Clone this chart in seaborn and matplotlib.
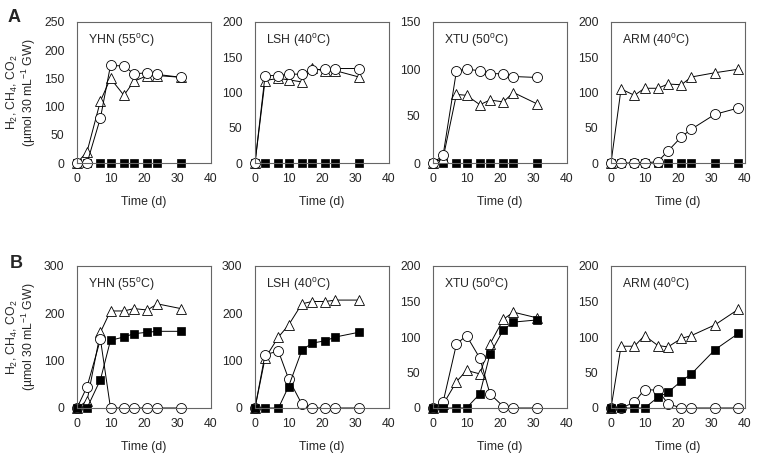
import matplotlib
matplotlib.use("Agg")
import matplotlib.pyplot as plt
import numpy as np
import seaborn as sns

sns.set_style("white")
plt.rcParams['font.family'] = ['Liberation Sans', 'DejaVu Sans']
plt.rcParams['mathtext.fontset'] = 'custom'
plt.rcParams['mathtext.rm'] = 'Liberation Sans'
plt.rcParams['mathtext.it'] = 'Liberation Sans'

# sampling days
t9 = [0, 3, 7, 10, 14, 17, 21, 24, 31]
t10 = [0, 3, 7, 10, 14, 17, 21, 24, 31, 38]

sites = ["YHN (55$^\\mathregular{o}$C)", "LSH (40$^\\mathregular{o}$C)",
         "XTU (50$^\\mathregular{o}$C)", "ARM (40$^\\mathregular{o}$C)"]

# row A
a_circ = [
    [0, 0, 80, 173, 172, 158, 160, 157, 152],
    [0, 124, 124, 126, 126, 132, 133, 134, 134],
    [0, 8, 98, 100, 98, 95, 95, 92, 91],
    [0, 0, 0, 0, 2, 17, 37, 48, 69, 78],
]
a_tri = [
    [0, 20, 110, 150, 120, 145, 155, 155, 152],
    [0, 117, 120, 118, 115, 135, 130, 131, 122],
    [0, 5, 73, 72, 62, 67, 65, 75, 63],
    [0, 105, 96, 106, 106, 112, 111, 122, 128, 133],
]
a_sq = [
    [0, 0, 0, 0, 0, 0, 0, 0, 0],
    [0, 0, 0, 0, 0, 0, 0, 0, 0],
    [0, 0, 0, 0, 0, 0, 0, 0, 0],
    [0, 0, 0, 0, 0, 0, 0, 0, 0, 0],
]
a_ymax = [250, 200, 150, 200]

# row B
b_circ = [
    [0, 45, 145, 0, 0, 0, 0, 0, 0],
    [0, 113, 120, 62, 8, 0, 0, 0, 0],
    [0, 8, 90, 102, 70, 20, 2, 0, 0],
    [0, 0, 8, 26, 25, 6, 0, 0, 0, 0],
]
b_tri = [
    [0, 15, 160, 205, 205, 210, 207, 220, 210],
    [0, 105, 150, 175, 220, 225, 225, 228, 228],
    [0, 5, 37, 53, 48, 90, 125, 135, 127],
    [0, 87, 87, 102, 88, 86, 98, 102, 117, 139],
]
b_sq = [
    [0, 0, 60, 143, 150, 157, 160, 162, 162],
    [0, 0, 0, 45, 122, 137, 142, 150, 160],
    [0, 0, 0, 0, 20, 76, 110, 121, 124],
    [0, 0, 0, 0, 15, 22, 38, 48, 82, 105],
]
b_ymax = [300, 300, 200, 200]

fig = plt.figure(figsize=(7.59, 4.62), dpi=100)
W, H = 759, 462
lefts = [77, 255, 433, 611]
aw = 134
rows = [(22, 163), (266, 408)]
fs = 8.8


def draw(ax, t, tri, circ, sq, ymax, title, sq_first):
    common = dict(color='black', lw=0.7, clip_on=False, ax=ax, legend=False)
    if sq_first:
        sns.lineplot(x=t, y=sq, marker='s', ms=5.8, mfc='black', mec='black', mew=0.5, **common)
    sns.lineplot(x=t, y=tri, marker='^', ms=7.5, mfc='white', mec='black', mew=0.6, **common)
    sns.lineplot(x=t, y=circ, marker='o', ms=7.2, mfc='white', mec='black', mew=0.6, **common)
    if not sq_first:
        sns.lineplot(x=t, y=sq, marker='s', ms=5.8, mfc='black', mec='black', mew=0.5, **common)
    ax.set_xlim(0, 40)
    ax.set_ylim(0, ymax)
    step = 50 if ymax <= 250 else 100
    ax.set_yticks(np.arange(0, ymax + 1, step))
    ax.set_xticks([0, 10, 20, 30, 40])
    ax.tick_params(axis='y', length=0, labelsize=fs, pad=9)
    ax.tick_params(axis='x', length=0, labelsize=fs, pad=7)
    for s in ax.spines.values():
        s.set_color('#666666')
        s.set_linewidth(0.8)
    ax.text(0.08, 0.93, title, transform=ax.transAxes, fontsize=fs, va='top', ha='left')
    ax.set_xlabel("Time (d)", fontsize=fs, labelpad=8)


for r, (top, bot) in enumerate(rows):
    for i in range(4):
        ax = fig.add_axes([lefts[i] / W, 1 - bot / H, aw / W, (bot - top) / H])
        t = t10 if i == 3 else t9
        if r == 0:
            draw(ax, t, a_tri[i], a_circ[i], a_sq[i], a_ymax[i], sites[i], True)
        else:
            draw(ax, t, b_tri[i], b_circ[i], b_sq[i], b_ymax[i], sites[i], False)
        if i == 0:
            ax.set_ylabel("H$_2$, CH$_4$, CO$_2$\n(µmol 30 mL$^{-1}$ GW)",
                          fontsize=fs, labelpad=4, linespacing=1.0)

fig.text(8 / W, 1 - 18 / H, "A", fontsize=13, fontweight='bold', va='center')
fig.text(10 / W, 1 - 263 / H, "B", fontsize=13, fontweight='bold', va='center')

fig.savefig("out.png", dpi=100)
